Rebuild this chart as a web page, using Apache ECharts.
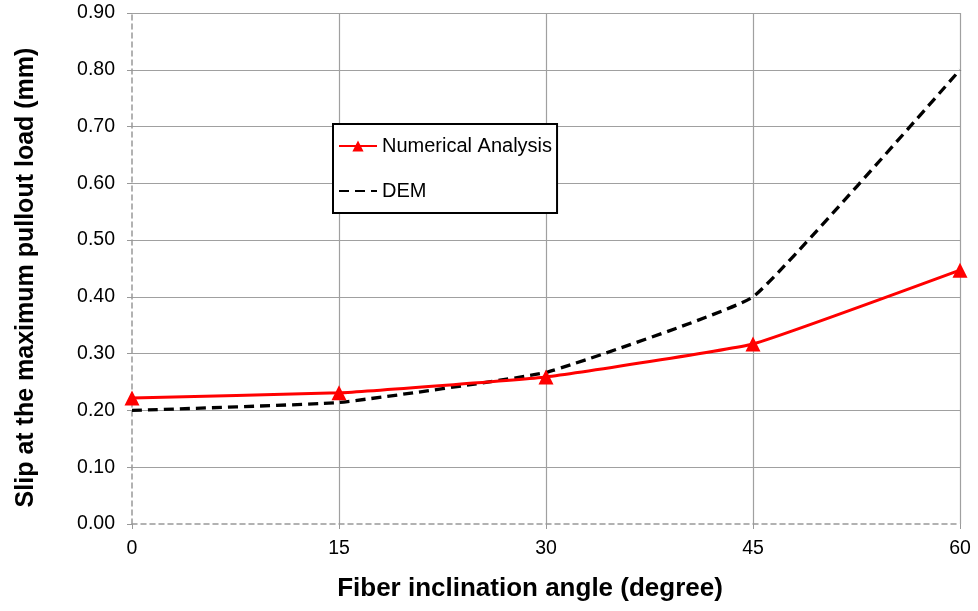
<!DOCTYPE html>
<html><head><meta charset="utf-8">
<script src="https://cdn.jsdelivr.net/npm/echarts@6/dist/echarts.min.js"></script>
<style>html,body{margin:0;padding:0;background:#fff}#c{width:978px;height:611px}</style>
</head><body><div id="c"></div>
<script>
const angles = [0, 15, 30, 45, 60];
const numerical = [0.222, 0.231, 0.259, 0.317, 0.447];
const dem = [0.200, 0.214, 0.267, 0.400, 0.800];
const xTicks = [0, 15, 30, 45, 60];
const yTicks = [0, 0.1, 0.2, 0.3, 0.4, 0.5, 0.6, 0.7, 0.8, 0.9];

const chart = echarts.init(document.getElementById('c'));
const F = 'Liberation Sans, Arial, sans-serif';
const gridGray = '#a0a0a0';
chart.setOption({
  animation: false,
  textStyle: {fontFamily: F},
  grid: {left: 132, right: 18, top: 13, bottom: 87},
  legend: {
    orient: 'vertical', left: 333, top: 124,
    padding: [12, 5, 12, 5], itemGap: 25,
    itemWidth: 38, itemHeight: 14,
    borderColor: '#000', borderWidth: 2, backgroundColor: '#fff',
    textStyle: {fontFamily: F, fontSize: 20, color: '#000'},
    data: ['Numerical Analysis', 'DEM']
  },
  xAxis: {
    type: 'value', min: 0, max: 60, interval: 15,
    name: 'Fiber inclination angle (degree)', nameLocation: 'middle', nameGap: 52,
    nameTextStyle: {fontFamily: F, fontSize: 26, fontWeight: 'bold', color: '#000', padding: [0, 32, 0, 0]},
    axisLine: {show: true, lineStyle: {color: '#999', type: [5, 4], width: 1.5}},
    axisTick: {show: true, length: 5, lineStyle: {color: '#999'}},
    axisLabel: {fontSize: 19.5, color: '#000', margin: 15, formatter: v => xTicks.includes(v) ? String(v) : ''},
    splitLine: {show: true, lineStyle: {color: ['transparent', gridGray, gridGray, gridGray, gridGray], width: 1.2}}
  },
  yAxis: {
    type: 'value', min: 0, max: 0.9, interval: 0.1,
    name: 'Slip at the maximum pullout load (mm)', nameLocation: 'middle', nameGap: 93,
    nameTextStyle: {fontFamily: F, fontSize: 25, fontWeight: 'bold', color: '#000', padding: [0, 18, 0, 0]},
    axisLine: {show: true, lineStyle: {color: '#999', type: [5, 4], width: 1.5}},
    axisTick: {show: true, length: 5, lineStyle: {color: '#999'}},
    axisLabel: {fontSize: 19.5, color: '#000', margin: 17, formatter: v => v.toFixed(2)},
    splitLine: {show: true, lineStyle: {color: ['transparent'].concat(Array(9).fill(gridGray)), width: 1.2}}
  },
  series: [
    {
      name: 'Numerical Analysis', type: 'line',
      data: angles.map((a, i) => [a, numerical[i]]),
      smooth: 0.1,
      symbol: 'triangle', symbolSize: 15,
      itemStyle: {color: '#ff0000'},
      lineStyle: {color: '#ff0000', width: 3},
      z: 3
    },
    {
      name: 'DEM', type: 'line',
      data: angles.map((a, i) => [a, dem[i]]),
      smooth: 0.1,
      symbol: 'none',
      itemStyle: {color: 'rgba(0,0,0,0)'},
      lineStyle: {color: '#000', width: 3.3, type: [10, 6]},
      z: 2
    }
  ]
});
</script></body></html>
